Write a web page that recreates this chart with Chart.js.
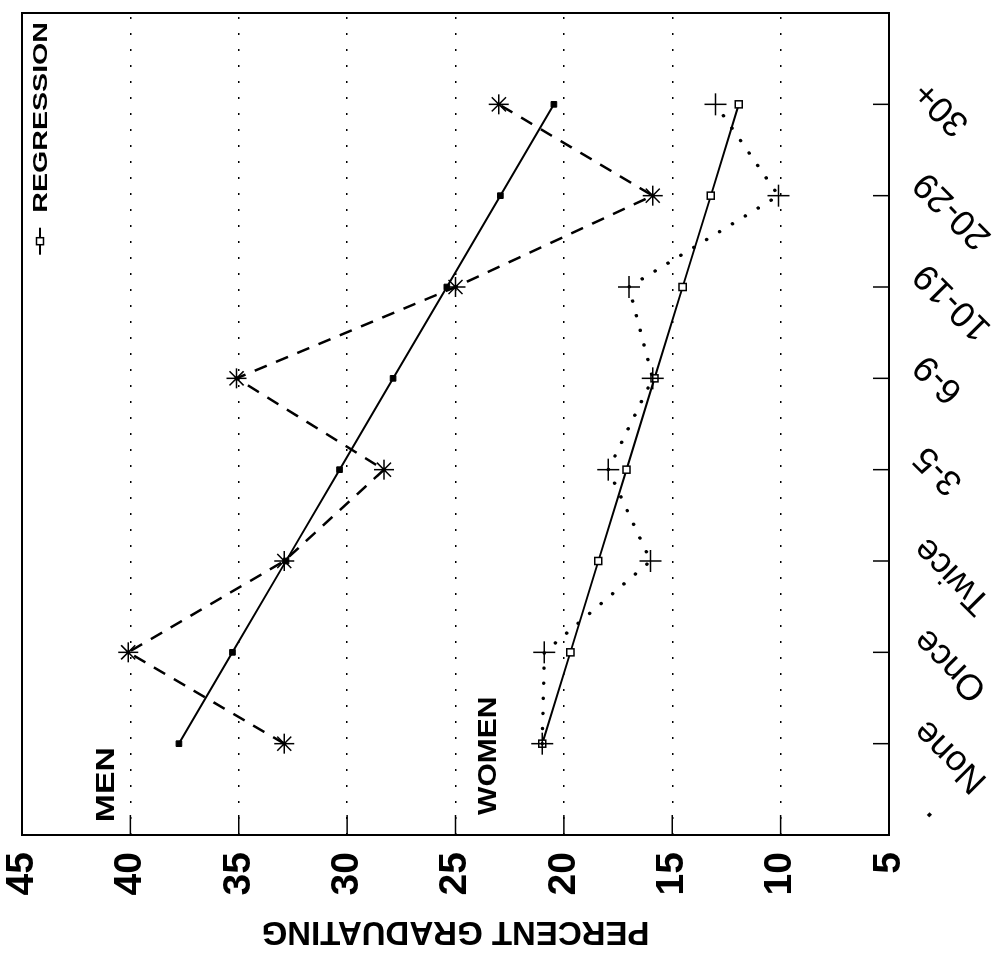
<!DOCTYPE html>
<html>
<head>
<meta charset="utf-8">
<title>Percent graduating</title>
<script src="https://cdn.jsdelivr.net/npm/chart.js@4.4.1/dist/chart.umd.min.js"></script>
<style>
  html, body { margin: 0; padding: 0; background: #fff; overflow: hidden; }
  /* the chart is drawn upright, then the whole thing is turned a quarter turn left like the scan */
  #wrap {
    position: absolute; left: 0; top: 0;
    width: 955px; height: 1007px;
    transform-origin: 0 0;
    transform: translate(0px, 955px) rotate(-90deg);
  }
</style>
</head>
<body>
<div id="wrap"><canvas id="myChart" width="955" height="1007"></canvas></div>
<script>
// categories along the bottom axis (before turning)
const categories = ['None', 'Once', 'Twice', '3-5', '6-9', '10-19', '20-29', '30+'];

// men, asterisks joined by dashes
const menValues = [32.9, 40.1, 32.9, 28.3, 35.1, 25.0, 15.9, 23.0];
// men regression line
const menRegression = [37.76, 35.29, 32.82, 30.35, 27.88, 25.40, 22.93, 20.46];

// women, plus signs joined by dots
const womenValues = [21.0, 20.9, 16.0, 17.95, 15.9, 17.0, 10.1, 13.0];
// women regression line
const womenRegression = [21.0, 19.70, 18.41, 17.11, 15.82, 14.52, 13.22, 11.93];

// value axis ticks
const percentTicks = [45, 40, 35, 30, 25, 20, 15, 10, 5];

const FONT = '"Liberation Sans", Arial, Helvetica, sans-serif';

function toPoints(arr) {
    return arr.map((v, i) => ({ x: i + 1, y: v }));
}

// draw text stretched sideways (the scan uses a wide lettering)
function wideText(ctx, text, x, y, font, sx) {
    ctx.save();
    ctx.font = font;
    ctx.translate(x, y);
    ctx.scale(sx, 1);
    ctx.fillText(text, 0, 0);
    ctx.restore();
}

// frame, inward tick marks, MEN / WOMEN labels and the legend
const extras = {
    id: 'extras',
    afterDatasetsDraw(chart) {
        const ctx = chart.ctx;
        const a = chart.chartArea;
        const xs = chart.scales.x;
        const ys = chart.scales.y;
        ctx.save();
        ctx.setLineDash([]);
        ctx.strokeStyle = '#000';
        ctx.fillStyle = '#000';

        ctx.lineWidth = 2;
        ctx.strokeRect(a.left, a.top, a.right - a.left, a.bottom - a.top);

        ctx.lineWidth = 1.5;
        percentTicks.forEach(v => {
            const y = ys.getPixelForValue(v);
            ctx.beginPath();
            ctx.moveTo(a.left, y);
            ctx.lineTo(a.left + 20, y);
            ctx.stroke();
        });
        categories.forEach((c, i) => {
            const x = xs.getPixelForValue(i + 1);
            ctx.beginPath();
            ctx.moveTo(x, a.bottom);
            ctx.lineTo(x, a.bottom - 16);
            ctx.stroke();
        });

        ctx.textBaseline = 'alphabetic';
        wideText(ctx, 'MEN', xs.getPixelForValue(0.14), ys.getPixelForValue(40.76), 'bold 25px ' + FONT, 1.35);
        wideText(ctx, 'WOMEN', xs.getPixelForValue(0.22), ys.getPixelForValue(23.14), 'bold 25px ' + FONT, 1.2);

        // legend: line with open square, then REGRESSION
        ctx.font = 'bold 20px ' + FONT;
        const sx = 1.43;
        const tw = ctx.measureText('REGRESSION').width * sx;
        const tx = a.right - 9 - tw;
        const ty = a.top + 25;
        wideText(ctx, 'REGRESSION', tx, ty, 'bold 20px ' + FONT, sx);
        const my = ty - 7;
        ctx.lineWidth = 2;
        ctx.beginPath();
        ctx.moveTo(tx - 42, my);
        ctx.lineTo(tx - 15, my);
        ctx.stroke();
        ctx.fillStyle = '#fff';
        ctx.lineWidth = 1.5;
        ctx.fillRect(tx - 32, my - 3.5, 7, 7);
        ctx.strokeRect(tx - 32, my - 3.5, 7, 7);
        ctx.restore();
    }
};

const ctx = document.getElementById('myChart').getContext('2d');
const myChart = new Chart(ctx, {
    type: 'line',
    data: {
        datasets: [
            {
                label: 'Men',
                data: toPoints(menValues),
                borderColor: '#000',
                borderWidth: 2.5,
                borderDash: [13, 10],
                pointStyle: 'star',
                pointRadius: 10,
                pointBorderWidth: 1.5,
                pointBorderColor: '#000',
                pointBackgroundColor: '#000'
            },
            {
                label: 'Men regression',
                data: toPoints(menRegression),
                borderColor: '#000',
                borderWidth: 2,
                pointStyle: 'rect',
                pointRadius: 4,
                pointBorderWidth: 1,
                pointBorderColor: '#000',
                pointBackgroundColor: '#000'
            },
            {
                label: 'Women',
                data: toPoints(womenValues),
                borderColor: '#000',
                borderWidth: 3.5,
                borderDash: [0.1, 15],
                borderCapStyle: 'round',
                pointStyle: 'cross',
                pointRadius: 11,
                pointBorderWidth: 1.5,
                pointBorderColor: '#000',
                pointBackgroundColor: '#000'
            },
            {
                label: 'Women regression',
                data: toPoints(womenRegression),
                borderColor: '#000',
                borderWidth: 2,
                pointStyle: 'rect',
                pointRadius: 5,
                pointBorderWidth: 1.5,
                pointBorderColor: '#000',
                pointBackgroundColor: '#fff'
            }
        ]
    },
    options: {
        responsive: false,
        animation: false,
        events: [],
        layout: { padding: { top: 22, right: 13, left: 0, bottom: 0 } },
        plugins: {
            legend: { display: false },
            tooltip: { enabled: false }
        },
        scales: {
            x: {
                type: 'linear',
                min: 0,
                max: 9,
                afterBuildTicks: (scale) => {
                    scale.ticks = [0, 1, 2, 3, 4, 5, 6, 7, 8, 9].map(v => ({ value: v }));
                },
                afterFit: (scale) => {
                    scale.height = 118;
                    scale.paddingLeft = 0;
                    scale.paddingRight = 0;
                },
                grid: { display: false },
                border: { display: false },
                ticks: {
                    autoSkip: false,
                    minRotation: 45,
                    maxRotation: 45,
                    padding: 8,
                    labelOffset: 18,
                    color: '#000',
                    font: { family: FONT, size: 36 },
                    callback: (v) => v === 0 ? '.' : (categories[v - 1] || '')
                }
            },
            y: {
                min: 5,
                max: 45,
                afterBuildTicks: (scale) => {
                    scale.ticks = percentTicks.map(v => ({ value: v }));
                },
                afterFit: (scale) => {
                    scale.width = 120;
                    scale.paddingTop = 0;
                    scale.paddingBottom = 0;
                },
                grid: {
                    color: '#000',
                    lineWidth: 1.5,
                    drawTicks: false
                },
                border: { display: false, dash: [2, 14] },
                ticks: {
                    padding: 17,
                    color: '#000',
                    font: { family: FONT, size: 39, weight: 'bold', lineHeight: 1 }
                },
                title: {
                    display: true,
                    text: 'PERCENT GRADUATING',
                    color: '#000',
                    padding: { top: 4, bottom: 0 },
                    font: { family: FONT, size: 33, weight: 'bold' }
                }
            }
        }
    },
    plugins: [extras]
});
</script>
</body>
</html>
